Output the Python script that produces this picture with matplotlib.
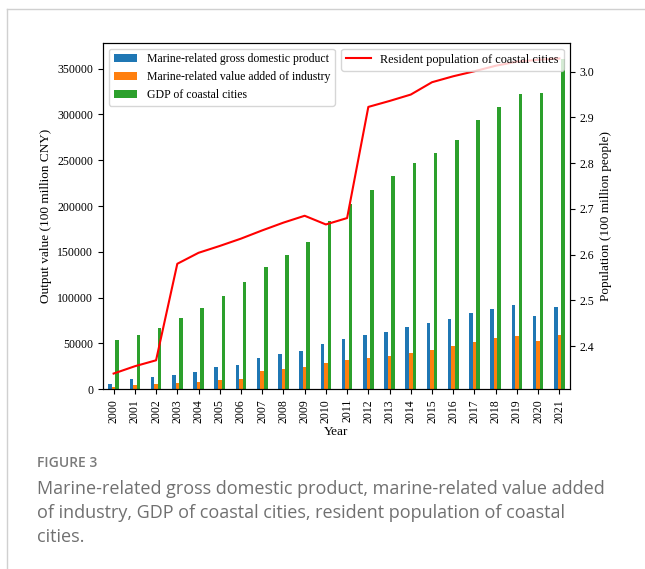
#! /usr/bin/env python3

import numpy as np
import matplotlib
matplotlib.use('Agg')
import matplotlib.pyplot as plt
from matplotlib.lines import Line2D

years = [str(y) for y in range(2000, 2022)]
marine_gdp = [5800, 10900, 13800, 15300, 18900, 24700, 26600, 34600, 38900, 42200, 49500,
              55300, 59300, 62600, 68100, 72400, 77100, 83700, 88100, 91700, 80100, 89900]
marine_industry = [2900, 4700, 6200, 6500, 7600, 10200, 11600, 20400, 22600, 24400, 28700,
                   32000, 34600, 36800, 40000, 43300, 47300, 51700, 55700, 58600, 52800, 59000]
coastal_gdp = [53900, 59300, 67000, 77500, 89200, 101900, 116800, 133200, 147000, 161200, 183400,
               202700, 217600, 233300, 246700, 257600, 272200, 294100, 308600, 322100, 323900, 360300]
population = [2.340, 2.356, 2.369, 2.580, 2.604, 2.619, 2.635, 2.653, 2.670, 2.685, 2.666,
              2.680, 2.923, 2.936, 2.950, 2.977, 2.990, 3.001, 3.013, 3.022, 3.026, 3.029]

plt.rcParams['font.family'] = ['Liberation Serif', 'DejaVu Serif']
plt.rcParams['font.size'] = 8.5
plt.rcParams['axes.labelsize'] = 9.5

fig = plt.figure(figsize=(6.45, 5.69), dpi=100)
ax = fig.add_axes([0.1597, 0.3158, 0.7240, 0.6092])

x = np.arange(len(years))
w = 0.5 / 3
ax.bar(x - w, marine_gdp, w, color='tab:blue', label='Marine-related gross domestic product')
ax.bar(x, marine_industry, w, color='tab:orange', label='Marine-related value added of industry')
ax.bar(x + w, coastal_gdp, w, color='tab:green', label='GDP of coastal cities')
ax.set_xlim(-0.5, len(years) - 0.5)
ax.set_xticks(x)
ax.set_xticklabels(years, rotation=90)
ax.set_xlabel('Year', labelpad=2)
ax.set_ylabel('Output value (100 million CNY)')
ax.legend(loc='upper left')

ax2 = ax.twinx()
ax2.plot(x, population, color='r', linewidth=1.5, label='Resident population of coastal cities')
ax2.set_ylabel('Population (100 million people)')
ax2.set_yticks([2.4, 2.5, 2.6, 2.7, 2.8, 2.9, 3.0])
ax2.legend(loc='upper right', fontsize=8.8)

# caption card
grey = '#d0d0d0'
fig.add_artist(Line2D([6.5 / 645, 6.5 / 645], [0, 1 - 9 / 569], transform=fig.transFigure, color=grey, lw=1))
fig.add_artist(Line2D([6.5 / 645, 1], [1 - 9 / 569, 1 - 9 / 569], transform=fig.transFigure, color=grey, lw=1))
fig.text(37 / 645, 1 - 463 / 569, 'FIGURE 3', family='Open Sans', weight='semibold', fontsize=10,
         color='#7a7a7a', va='center')
caption = ['Marine-related gross domestic product, marine-related value added',
           'of industry, GDP of coastal cities, resident population of coastal',
           'cities.']
for i, line in enumerate(caption):
    fig.text(37 / 645, 1 - (489 + 24 * i) / 569, line, family='Open Sans', fontsize=13,
             color='#707070', va='center')

fig.savefig('out.png', dpi=100)
plt.close('all')
